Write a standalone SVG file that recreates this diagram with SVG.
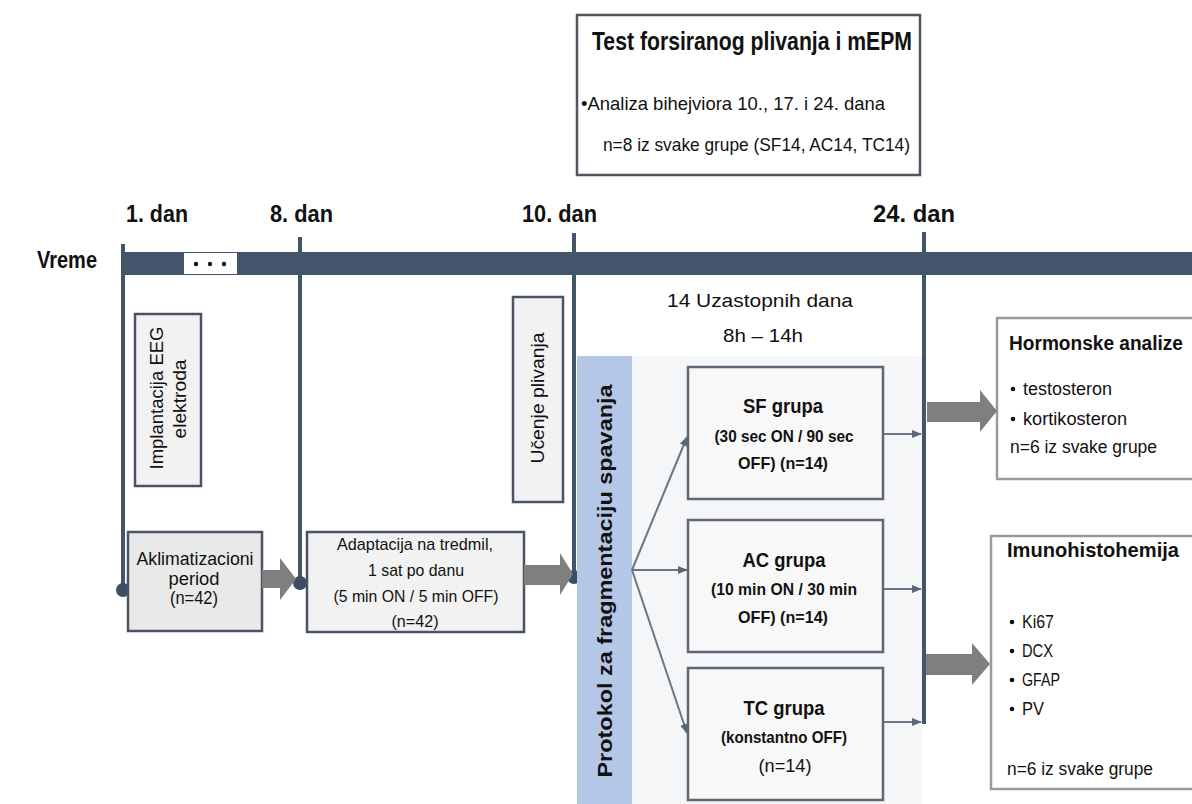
<svg xmlns="http://www.w3.org/2000/svg" width="1192" height="804" viewBox="0 0 1192 804">
<defs>
<style>
text{font-family:"Liberation Sans",Arial,sans-serif;fill:#111;}
.b{font-weight:bold;}
.box{fill:#f2f2f2;stroke:#4a5464;stroke-width:2.5;}
.gbox{fill:#f8f8f8;stroke:#5f6773;stroke-width:2.5;}
.vl{stroke:#44546a;stroke-width:4;fill:none;}
.dot{fill:#3f4d62;}
.con{stroke:#6b7585;stroke-width:2;fill:none;}
.big{fill:#7f7f7f;}
</style>
<marker id="ah" viewBox="0 0 10 10" refX="9" refY="5" markerWidth="5" markerHeight="5" orient="auto" markerUnits="strokeWidth">
<path d="M0,1 L10,5 L0,9 Z" fill="#5b6678"/>
</marker>
</defs>
<rect width="1192" height="804" fill="#ffffff"/>

<!-- background panel -->
<rect x="632" y="356" width="290" height="448" fill="#f5f6f8"/>

<!-- timeline -->
<g id="timeline">
<text x="37" y="268" class="b" font-size="23" textLength="60" lengthAdjust="spacingAndGlyphs">Vreme</text>
<rect x="122" y="252" width="1070" height="23" fill="#44546a"/>
<rect x="184" y="253" width="53" height="21" fill="#ffffff"/>
<circle cx="196" cy="264" r="2.2" fill="#111"/>
<circle cx="210" cy="264" r="2.2" fill="#111"/>
<circle cx="224" cy="264" r="2.2" fill="#111"/>
<text x="126" y="222" class="b" font-size="24" textLength="62" lengthAdjust="spacingAndGlyphs">1. dan</text>
<text x="270" y="222" class="b" font-size="24" textLength="63" lengthAdjust="spacingAndGlyphs">8. dan</text>
<text x="522" y="222" class="b" font-size="24" textLength="75" lengthAdjust="spacingAndGlyphs">10. dan</text>
<text x="873" y="222" class="b" font-size="24" textLength="82" lengthAdjust="spacingAndGlyphs">24. dan</text>
<line class="vl" x1="123" y1="244" x2="123" y2="590"/>
<line class="vl" x1="300" y1="237" x2="300" y2="583"/>
<line class="vl" x1="574" y1="233" x2="574" y2="577"/>
<line class="vl" x1="924" y1="232" x2="924" y2="724"/>
<circle class="dot" cx="123" cy="590" r="7"/>
<circle class="dot" cx="300" cy="583" r="7"/>
<circle class="dot" cx="574" cy="577" r="7"/>
</g>

<!-- top box -->
<g id="test-box">
<rect x="577" y="15" width="343" height="160" fill="#ffffff" stroke="#505560" stroke-width="2.5"/>
<text x="592" y="50" class="b" font-size="25" textLength="320" lengthAdjust="spacingAndGlyphs">Test forsiranog plivanja i mEPM</text>
<text x="581" y="110" font-size="18.5" textLength="304" lengthAdjust="spacingAndGlyphs">•Analiza bihejviora 10., 17. i 24. dana</text>
<text x="603" y="151" font-size="18.5" textLength="307" lengthAdjust="spacingAndGlyphs">n=8  iz svake grupe (SF14, AC14, TC14)</text>
</g>

<g id="implantacija">
<rect class="box" x="135" y="314" width="66" height="172"/>
<text transform="translate(163,398) rotate(-90)" text-anchor="middle" font-size="17.5" textLength="143" lengthAdjust="spacingAndGlyphs">Implantacija EEG</text>
<text transform="translate(186,399) rotate(-90)" text-anchor="middle" font-size="17.5" textLength="79" lengthAdjust="spacingAndGlyphs">elektroda</text>
</g>

<g id="ucenje">
<rect class="box" x="513" y="297" width="50" height="205"/>
<text transform="translate(544,398) rotate(-90)" text-anchor="middle" font-size="17.5" textLength="131" lengthAdjust="spacingAndGlyphs">Učenje plivanja</text>
</g>

<g id="aklimatizacioni">
<rect x="128" y="532" width="134" height="99" fill="#e9e9e9" stroke="#4a5464" stroke-width="2.5"/>
<text x="195" y="565" text-anchor="middle" font-size="19" textLength="117" lengthAdjust="spacingAndGlyphs">Aklimatizacioni</text>
<text x="194" y="585" text-anchor="middle" font-size="19" textLength="51" lengthAdjust="spacingAndGlyphs">period</text>
<text x="194" y="604" text-anchor="middle" font-size="19" textLength="48" lengthAdjust="spacingAndGlyphs">(n=42)</text>
</g>

<g id="adaptacija">
<rect class="box" x="307" y="532" width="217" height="100"/>
<text x="415" y="550" text-anchor="middle" font-size="17" textLength="156" lengthAdjust="spacingAndGlyphs">Adaptacija na tredmil,</text>
<text x="416" y="576" text-anchor="middle" font-size="17" textLength="96" lengthAdjust="spacingAndGlyphs">1 sat po danu</text>
<text x="416" y="602" text-anchor="middle" font-size="17" textLength="165" lengthAdjust="spacingAndGlyphs">(5 min ON / 5 min OFF)</text>
<text x="415" y="627" text-anchor="middle" font-size="17" textLength="47" lengthAdjust="spacingAndGlyphs">(n=42)</text>
</g>

<g id="protokol">
<rect x="577" y="356" width="55" height="448" fill="#b4c7e7"/>
<text transform="translate(612,581) rotate(-90)" text-anchor="middle" class="b" font-size="21" textLength="393" lengthAdjust="spacingAndGlyphs">Protokol za fragmentaciju spavanja</text>
</g>

<g id="uzastopnih">
<text x="760" y="307" text-anchor="middle" font-size="19" textLength="186" lengthAdjust="spacingAndGlyphs">14  Uzastopnih dana</text>
<text x="763" y="342" text-anchor="middle" font-size="19" textLength="80" lengthAdjust="spacingAndGlyphs">8h – 14h</text>
</g>

<g id="sf">
<rect class="gbox" x="688" y="367" width="195" height="132"/>
<text x="783" y="413" text-anchor="middle" class="b" font-size="21" textLength="80" lengthAdjust="spacingAndGlyphs">SF grupa</text>
<text x="784" y="442" text-anchor="middle" class="b" font-size="16.5" textLength="139" lengthAdjust="spacingAndGlyphs">(30 sec ON / 90 sec</text>
<text x="783" y="469" text-anchor="middle" class="b" font-size="16.5" textLength="90" lengthAdjust="spacingAndGlyphs">OFF) (n=14)</text>
</g>

<g id="ac">
<rect class="gbox" x="688" y="520" width="195" height="132"/>
<text x="784" y="567" text-anchor="middle" class="b" font-size="21" textLength="83" lengthAdjust="spacingAndGlyphs">AC grupa</text>
<text x="784" y="595" text-anchor="middle" class="b" font-size="16.5" textLength="146" lengthAdjust="spacingAndGlyphs">(10 min ON / 30 min</text>
<text x="783" y="623" text-anchor="middle" class="b" font-size="16.5" textLength="90" lengthAdjust="spacingAndGlyphs">OFF) (n=14)</text>
</g>

<g id="tc">
<rect class="gbox" x="688" y="668" width="195" height="132"/>
<text x="784" y="715" text-anchor="middle" class="b" font-size="21" textLength="81" lengthAdjust="spacingAndGlyphs">TC grupa</text>
<text x="784" y="743" text-anchor="middle" class="b" font-size="16.5" textLength="126" lengthAdjust="spacingAndGlyphs">(konstantno OFF)</text>
<text x="785" y="772" text-anchor="middle" font-size="19" textLength="53" lengthAdjust="spacingAndGlyphs">(n=14)</text>
</g>

<g id="hormonske">
<rect x="997" y="318" width="210" height="161" fill="#ffffff" stroke="#9a9a9a" stroke-width="2.5"/>
<text x="1009" y="350" class="b" font-size="20" textLength="174" lengthAdjust="spacingAndGlyphs">Hormonske analize</text>
<circle cx="1013" cy="389" r="2.3" fill="#111"/>
<text x="1023" y="395" font-size="18" textLength="89" lengthAdjust="spacingAndGlyphs">testosteron</text>
<circle cx="1013" cy="419" r="2.3" fill="#111"/>
<text x="1023" y="425" font-size="18" textLength="104" lengthAdjust="spacingAndGlyphs">kortikosteron</text>
<text x="1010" y="453" font-size="18" textLength="147" lengthAdjust="spacingAndGlyphs">n=6 iz svake grupe</text>
</g>

<g id="imuno">
<rect x="991" y="536" width="216" height="253" fill="#ffffff" stroke="#9a9a9a" stroke-width="2.5"/>
<text x="1007" y="557" class="b" font-size="20.5" textLength="172" lengthAdjust="spacingAndGlyphs">Imunohistohemija</text>
<circle cx="1012" cy="622" r="2.3" fill="#111"/>
<text x="1022" y="628" font-size="18" textLength="32" lengthAdjust="spacingAndGlyphs">Ki67</text>
<circle cx="1012" cy="651" r="2.3" fill="#111"/>
<text x="1022" y="657" font-size="18" textLength="31" lengthAdjust="spacingAndGlyphs">DCX</text>
<circle cx="1012" cy="680" r="2.3" fill="#111"/>
<text x="1022" y="686" font-size="18" textLength="38" lengthAdjust="spacingAndGlyphs">GFAP</text>
<circle cx="1012" cy="709" r="2.3" fill="#111"/>
<text x="1022" y="715" font-size="18" textLength="22" lengthAdjust="spacingAndGlyphs">PV</text>
<text x="1007" y="775" font-size="18" textLength="146" lengthAdjust="spacingAndGlyphs">n=6 iz svake grupe</text>
</g>

<g id="connectors">
<path class="big" d="M262,570 H280 V558 L296,579 L280,600 V588 H262 Z"/>
<path class="big" d="M524,565 H560 V553 L573,574 L560,595 V585 H524 Z"/>
<path class="big" d="M927,402 H980 V390 L997,411 L980,432 V422 H927 Z"/>
<path class="big" d="M926,654 H972 V643 L990,664 L972,685 V675 H926 Z"/>
<line class="con" x1="632" y1="570" x2="687" y2="437" marker-end="url(#ah)"/>
<line class="con" x1="632" y1="570" x2="687" y2="570" marker-end="url(#ah)"/>
<line class="con" x1="632" y1="570" x2="687" y2="733" marker-end="url(#ah)"/>
<line class="con" x1="884" y1="434" x2="921" y2="434" marker-end="url(#ah)"/>
<line class="con" x1="884" y1="589" x2="921" y2="589" marker-end="url(#ah)"/>
<line class="con" x1="884" y1="722" x2="921" y2="722" marker-end="url(#ah)"/>
</g>
</svg>
